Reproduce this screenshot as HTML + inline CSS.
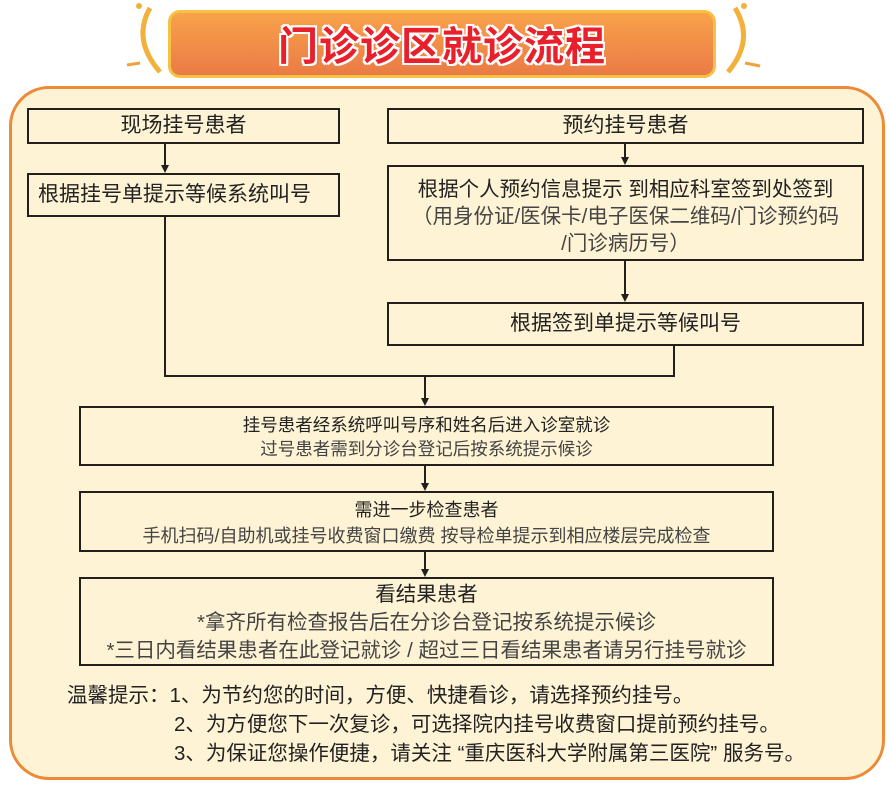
<!DOCTYPE html>
<html><head><meta charset="utf-8"><style>
body{margin:0;width:890px;height:785px;background:#fff;position:relative;overflow:hidden;font-family:"Liberation Sans","Noto Sans CJK SC",sans-serif;color:#222}
.panel{position:absolute;left:9px;top:86px;width:870px;height:688px;border:3px solid #ec8a38;border-radius:40px;background:#fef3d4}
.banner{position:absolute;left:168px;top:10px;width:548px;height:68px;border-radius:12px;background:linear-gradient(#f8a24a,#ea7b46);border:3px solid #f6c144;box-sizing:border-box}
.title{position:absolute;left:168px;top:14px;width:548px;text-align:center;font-size:40px;font-weight:bold;color:#e8202c;letter-spacing:1px;text-shadow:2px 0 #fff,-2px 0 #fff,0 2px #fff,0 -2px #fff,2px 2px #fff,-2px -2px #fff,2px -2px #fff,-2px 2px #fff}
.box{position:absolute;border:2px solid #231f1c;box-sizing:border-box;text-align:center;font-size:20px;line-height:26px;white-space:nowrap}
.l{position:absolute;background:#231f1c}
.ar{position:absolute;width:0;height:0;border-left:4px solid transparent;border-right:4px solid transparent;border-top:8px solid #231f1c}
.note{position:absolute;font-size:20.5px;white-space:nowrap}
.g{color:#444}
</style></head><body>
<div class="panel"></div>
<svg style="position:absolute;left:0;top:0" width="890" height="90">
<path d="M150 8 Q132 40 160 72" stroke="#f2b13a" stroke-width="5" fill="none"/>
<path d="M735 8 Q755 40 728 72" stroke="#f2b13a" stroke-width="5" fill="none"/>
<circle cx="139" cy="6" r="3" fill="#f2b13a"/><circle cx="744" cy="6" r="3" fill="#f2b13a"/>
<path d="M127 65 L140 63" stroke="#f2a13a" stroke-width="3"/><path d="M745 63 L760 66" stroke="#f2a13a" stroke-width="3"/>
</svg>
<div class="banner"></div>
<div class="title">门诊诊区就诊流程</div>

<div class="box" style="left:27px;top:108px;width:313px;height:36px;padding-top:3px;font-size:21px">现场挂号患者</div>
<div class="box" style="left:27px;top:173px;width:313px;height:44px;padding-top:7px;text-align:left;padding-left:9px;font-size:21px">根据挂号单提示等候系统叫号</div>
<div class="box" style="left:387px;top:108px;width:477px;height:36px;padding-top:3px;font-size:21px">预约挂号患者</div>
<div class="box" style="left:387px;top:165px;width:477px;height:96px;padding-top:9px;font-size:20.5px;line-height:27px">根据个人预约信息提示 到相应科室签到处签到<br><span class="g">（用身份证/医保卡/电子医保二维码/门诊预约码<br>/门诊病历号）</span></div>
<div class="box" style="left:387px;top:302px;width:477px;height:44px;padding-top:7px;font-size:21px">根据签到单提示等候叫号</div>
<div class="box" style="left:79px;top:406px;width:695px;height:60px;padding-top:5px;font-size:17.5px;line-height:24px">挂号患者经系统呼叫号序和姓名后进入诊室就诊<br><span class="g">过号患者需到分诊台登记后按系统提示候诊</span></div>
<div class="box" style="left:79px;top:491px;width:695px;height:61px;padding-top:4px;font-size:18px;line-height:26px">需进一步检查患者<br><span class="g">手机扫码/自助机或挂号收费窗口缴费 按导检单提示到相应楼层完成检查</span></div>
<div class="box" style="left:79px;top:577px;width:695px;height:89px;padding-top:2px;font-size:20.5px;line-height:28px">看结果患者<br><span class="g">*拿齐所有检查报告后在分诊台登记按系统提示候诊<br>*三日内看结果患者在此登记就诊 / 超过三日看结果患者请另行挂号就诊</span></div>

<div class="l" style="left:164px;top:144px;width:2px;height:22px"></div><div class="ar" style="left:161px;top:165px"></div>
<div class="l" style="left:624px;top:144px;width:2px;height:14px"></div><div class="ar" style="left:621px;top:157px"></div>
<div class="l" style="left:624px;top:261px;width:2px;height:34px"></div><div class="ar" style="left:621px;top:294px"></div>
<div class="l" style="left:164px;top:217px;width:2px;height:160px"></div>
<div class="l" style="left:673px;top:346px;width:2px;height:31px"></div>
<div class="l" style="left:164px;top:375px;width:511px;height:2px"></div>
<div class="l" style="left:424px;top:376px;width:2px;height:24px"></div><div class="ar" style="left:421px;top:398px"></div>
<div class="l" style="left:424px;top:466px;width:2px;height:18px"></div><div class="ar" style="left:421px;top:483px"></div>
<div class="l" style="left:424px;top:552px;width:2px;height:18px"></div><div class="ar" style="left:421px;top:569px"></div>

<div class="note" style="left:67px;top:678px">温馨提示：1、为节约您的时间，方便、快捷看诊，请选择预约挂号。</div>
<div class="note" style="left:174px;top:707px">2、为方便您下一次复诊，可选择院内挂号收费窗口提前预约挂号。</div>
<div class="note" style="left:174px;top:736px">3、为保证您操作便捷，请关注 “重庆医科大学附属第三医院” 服务号。</div>
</body></html>
